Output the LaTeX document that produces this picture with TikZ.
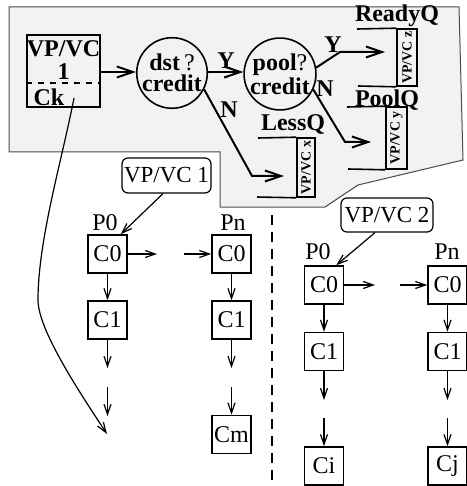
\documentclass[tikz,border=0pt]{standalone}
\usepackage{fontspec}
\setmainfont{Liberation Serif}
\usetikzlibrary{arrows.meta}
\begin{document}
\begin{tikzpicture}[x=0.5pt,y=-0.5pt,
  thickline/.style={line width=1pt},
  thinline/.style={line width=0.6pt},
  bigtip/.style={-{Straight Barb[length=8pt,width=5.5pt]}},
  smalltip/.style={-{Straight Barb[length=5pt,width=3.5pt]}},
  cbox/.style={draw, line width=0.8pt, minimum width=19.5pt, minimum height=19pt, inner sep=0pt, font=\fontsize{12}{14}\selectfont},
  plabel/.style={font=\fontsize{12}{14}\selectfont, inner sep=0pt},
  blabel/.style={font=\bfseries\fontsize{12}{14}\selectfont, inner sep=0pt},
  qbox/.style={draw, line width=0.8pt, inner sep=0pt},
  qtext/.style={font=\bfseries\fontsize{7}{8}\selectfont, rotate=90, inner sep=0pt},
  vcbox/.style={draw, rounded corners=3pt, line width=0.6pt, inner sep=1pt, font=\fontsize{11.5}{13}\selectfont},
  dec/.style={draw, circle, line width=0.8pt, minimum size=35pt, inner sep=0pt, align=center, font=\fontsize{12}{10.5}\selectfont}
]
\useasboundingbox (0,0) rectangle (466,486);

% gray region
\draw[fill=black!5, draw=black!70, line width=0.5pt]
  (9,7) -- (459,7) -- (463,160) -- (358,185) -- (325,207) -- (220,207) -- (220,152) -- (9,152) -- cycle;

% VP/VC source box
\node[draw, line width=0.8pt, minimum width=36.5pt, minimum height=36pt, inner sep=0pt] (src) at (63.5,71) {};
\draw[dashed, line width=0.6pt] (src.west |- 0,83) -- (src.east |- 0,83);
\node[blabel] (srct) at (63.5,49) {VP/VC};
\node[blabel] (srcn) at (63.5,72) {1};
\node[blabel] (srck) at (49,97) {Ck};
\coordinate (ckstart) at (74,98);

% decision circles
\node[dec] (dst) at (172,73) {{\bfseries dst}\,?\\{\bfseries credit}};
\node[dec] (pool) at (280,74) {{\bfseries pool}?\\{\bfseries credit}};

\draw[thickline, bigtip] (src.east |- 0,72) -- (dst.west |- 0,72);
\draw[thickline, bigtip] (dst.east |- 0,72) -- (pool.west |- 0,72);
\node[blabel] (y1) at (226,61) {Y};

% queues
\node[qbox, minimum width=10pt, minimum height=28.5pt] (rq) at (407,57.5) {};
\node[qtext] (rqt) at (rq) {VP/VC z};
\draw[line width=0.8pt] (357,29) -- (rq.north west);
\draw[line width=0.8pt] (358,86) -- (rq.south west);
\node[blabel] (rql) at (397,16) {ReadyQ};

\node[qbox, minimum width=10.5pt, minimum height=31pt] (pq) at (396.5,138) {};
\node[qtext] (pqt) at (pq) {VP/VC y};
\draw[line width=0.8pt] (347,107) -- (pq.north west);
\draw[line width=0.8pt] (348,169) -- (pq.south west);
\node[blabel] (pql) at (387,100) {PoolQ};

\node[qbox, minimum width=9pt, minimum height=29.5pt] (lq) at (306,167.5) {};
\node[qtext] (lqt) at (lq) {VP/VC x};
\draw[line width=0.8pt] (258,138) -- (lq.north west);
\draw[line width=0.8pt] (257,197) -- (lq.south west);
\node[blabel] (lql) at (293,125) {LessQ};

% branches
\coordinate (ybend) at (340,52);
\coordinate (yend) at (385,52);
\draw[thickline, bigtip] (pool.10) -- (ybend) -- (yend);
\node[blabel] (y2) at (333,45) {Y};

\coordinate (nbend) at (345,142);
\coordinate (nend) at (371,142);
\draw[thickline, bigtip] (pool.-25) -- (nbend) -- (nend);
\node[blabel] (n2) at (325,89) {N};

\coordinate (n1bend) at (252,176);
\coordinate (n1end) at (284,176);
\draw[thickline, bigtip] (dst.-27) -- (n1bend) -- (n1end);
\node[blabel] (n1) at (229,110) {N};

% lower part: VP/VC 1
\node[vcbox, minimum width=43.5pt, minimum height=17.5pt] (vc1) at (166.5,175.5) {VP/VC 1};
\node[plabel] (p0a) at (105,223) {P0};
\node[plabel] (pna) at (233,223) {Pn};
\node[cbox] (c0a) at (107.5,254) {C0};
\node[cbox] (c1a) at (107.5,320) {C1};
\node[cbox] (c0b) at (231.5,254) {C0};
\node[cbox] (c1b) at (231.5,320) {C1};
\node[cbox] (cmb) at (231.5,434.5) {Cm};

\draw[thinline, smalltip] (vc1.south -| 163,0) -- ([xshift=-3.5pt]c0a.north east);
\draw[thinline, smalltip] (c0a) -- (c1a);
\coordinate (a1) at (107.5,368);
\coordinate (a2) at (107.5,387);
\coordinate (a3) at (107.5,416);
\draw[thinline, smalltip] (c1a) -- (a1);
\draw[thinline, smalltip] (a2) -- (a3);
\coordinate (ha1) at (157,254);
\coordinate (ha2) at (184,254);
\draw[thinline, smalltip] (c0a) -- (ha1);
\draw[thinline, smalltip] (ha2) -- (c0b);
\draw[thinline, smalltip] (c0b) -- (c1b);
\coordinate (b1) at (231.5,368);
\coordinate (b2) at (231.5,387);
\draw[thinline, smalltip] (c1b) -- (b1);
\draw[thinline, smalltip] (b2) -- (cmb);

% curved arrow from Ck
\coordinate (ckmid) at (38,300);
\coordinate (ckend) at (107,434);
\draw[thinline, smalltip] (ckstart) .. controls (62,160) and (38,240) .. (ckmid)
   .. controls (38,330) and (80,393) .. (ckend);

% divider
\coordinate (dtop) at (272,215);
\coordinate (dbot) at (272,486);
\draw[line width=1pt, dash pattern=on 5pt off 3.5pt] (dtop) -- (dbot);

% lower part: VP/VC 2
\node[vcbox, minimum width=46pt, minimum height=17pt] (vc2) at (387,215) {VP/VC 2};
\node[plabel] (p0c) at (318,252) {P0};
\node[plabel] (pnd) at (447,252) {Pn};
\node[cbox] (c0c) at (324,285) {C0};
\node[cbox] (c1c) at (324,351.5) {C1};
\node[cbox] (cic) at (324,466) {Ci};
\node[cbox] (c0d) at (447.5,285) {C0};
\node[cbox] (c1d) at (447.5,351.5) {C1};
\node[cbox] (cjd) at (447.5,466) {Cj};

\draw[thinline, smalltip] (vc2.south -| 375,0) -- ([xshift=-4pt]c0c.north east);
\draw[thinline, smalltip] (c0c) -- (c1c);
\coordinate (c1) at (324,400);
\coordinate (c2) at (324,418);
\draw[thinline, smalltip] (c1c) -- (c1);
\draw[thinline, smalltip] (c2) -- (cic);
\coordinate (hc1) at (375,285);
\coordinate (hc2) at (400,285);
\draw[thinline, smalltip] (c0c) -- (hc1);
\draw[thinline, smalltip] (hc2) -- (c0d);
\draw[thinline, smalltip] (c0d) -- (c1d);
\coordinate (d1) at (447.5,400);
\coordinate (d2) at (447.5,418);
\draw[thinline, smalltip] (c1d) -- (d1);
\draw[thinline, smalltip] (d2) -- (cjd);
\end{tikzpicture}
\end{document}
